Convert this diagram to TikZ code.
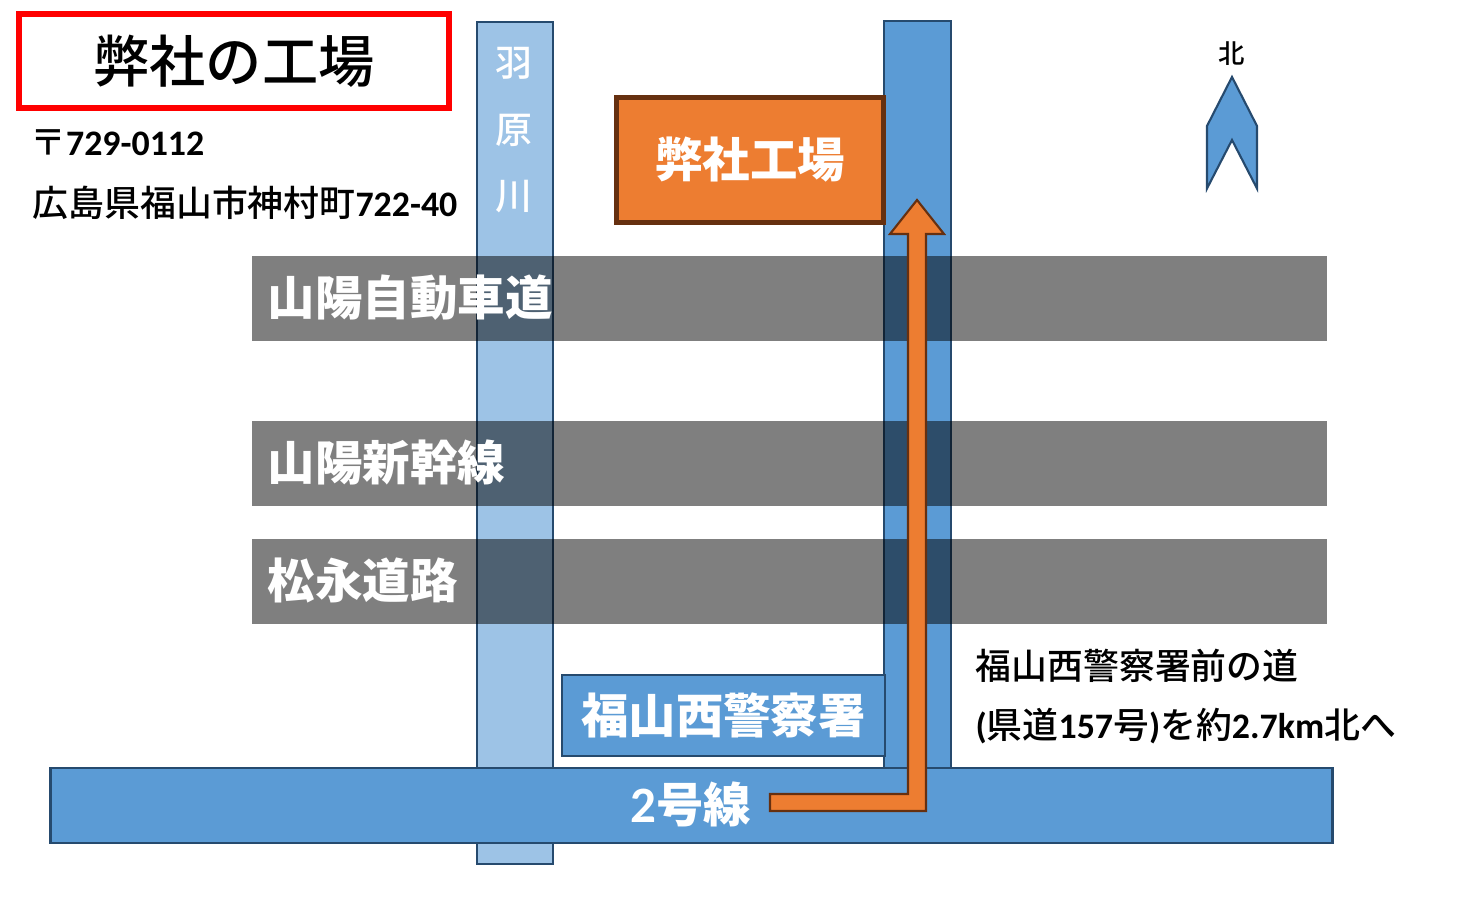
\documentclass[tikz,border=0pt]{standalone}
\usepackage{fontspec}
\setmainfont{Noto Sans CJK JP}
\newfontfamily\medfont{Noto Sans CJK JP Medium}
\newfontfamily\latfont{Carlito Bold}
\newcommand{\lat}[1]{{\latfont #1}}
\usepackage{tikz}
\usetikzlibrary{calc}
\definecolor{roadblue}{HTML}{5B9BD5}
\definecolor{riverblue}{HTML}{9DC3E6}
\definecolor{edgeblue}{HTML}{264A6E}
\definecolor{routeorange}{HTML}{ED7D31}
\definecolor{edgebrown}{HTML}{663010}
\tikzset{
    road/.style = {draw=edgeblue, line width=0.7pt, fill=roadblue, inner sep=0pt},
    river/.style = {road, fill=riverblue},
    band/.style = {fill=black, fill opacity=0.5, inner sep=0pt, minimum width=10.75cm, minimum height=0.85cm},
    bigtext/.style = {text=white, font=\fontsize{13.5}{16}\selectfont\bfseries, inner sep=0pt},
    smalltext/.style = {text=black, font=\fontsize{10.2}{12}\selectfont\medfont, inner sep=0pt, anchor=west},
    rivertext/.style = {text=white, font=\fontsize{10.5}{12}\selectfont\medfont, inner sep=0pt}
}
\begin{document}
\begin{tikzpicture}[x=0.01cm,y=-0.01cm]
    \useasboundingbox (0,0) rectangle (1457,901);
    \node[river,minimum width=0.76cm,minimum height=8.41cm] (river) at (515,443) {};
    \node[road,minimum width=0.67cm,minimum height=7.47cm] (road) at (917.5,394.5) {};
    \node[rivertext] (river1) at (514,63) {羽};
    \node[rivertext] (river2) at (514,130) {原};
    \node[rivertext] (river3) at (514,197) {川};
    \node[band] (expressway) at (789.5,298.5) {};
    \node[band] (shinkansen) at (789.5,463.5) {};
    \node[band] (matsunaga) at (789.5,581.5) {};
    \node[bigtext,anchor=west] (expresslabel) at (267,297.5) {山陽自動車道};
    \node[bigtext,anchor=west] (shinlabel) at (267,462.5) {山陽新幹線};
    \node[bigtext,anchor=west] (matsulabel) at (267,580.5) {松永道路};
    \node[draw=red,line width=1.7pt,minimum width=4.29cm,minimum height=0.94cm,
        font=\fontsize{16}{19}\selectfont\medfont,inner sep=0pt] (title) at (234,61) {弊社の工場};
    \node[smalltext] (postcode) at (29.5,143) {〒\lat{729-0112}};
    \node[smalltext] (address) at (32,203) {広島県福山市神村町\lat{722-40}};
    \node[draw=edgebrown,line width=1.6pt,fill=routeorange,minimum width=2.67cm,minimum height=1.25cm,
        bigtext] (factory) at (750,160) {弊社工場};
    \node[road,minimum width=3.23cm,minimum height=0.81cm,bigtext] (police) at (723.5,715.5) {福山西警察署};
    \node[road,minimum width=12.81cm,minimum height=0.75cm] (route2) at (691.5,805.5) {};
    \node[bigtext] (route2label) at (691,804) {\lat{\fontsize{14.5}{16}\selectfont 2}号線};
    \draw[draw=edgebrown,line width=0.6pt,fill=routeorange] (917,200) -- (944,234) -- (926,234)
        -- (926,811) -- (770,811) -- (770,794) -- (908,794) -- (908,234) -- (890,234) -- cycle;
    \node[smalltext] (note1) at (975,666) {福山西警察署前の道};
    \node[smalltext] (note2) at (975,726) {\lat{(}県道\lat{157}号\lat{)}を約\lat{2.7km}北へ};
    \node[font=\fontsize{7.5}{9}\selectfont\medfont,inner sep=0pt] (north) at (1232,54) {北};
    \draw[draw=edgeblue,line width=0.6pt,fill=roadblue] (1232,77) -- (1257,126) -- (1257,188.5)
        -- (1232,140) -- (1207,188.5) -- (1207,126) -- cycle;
\end{tikzpicture}
\end{document}
